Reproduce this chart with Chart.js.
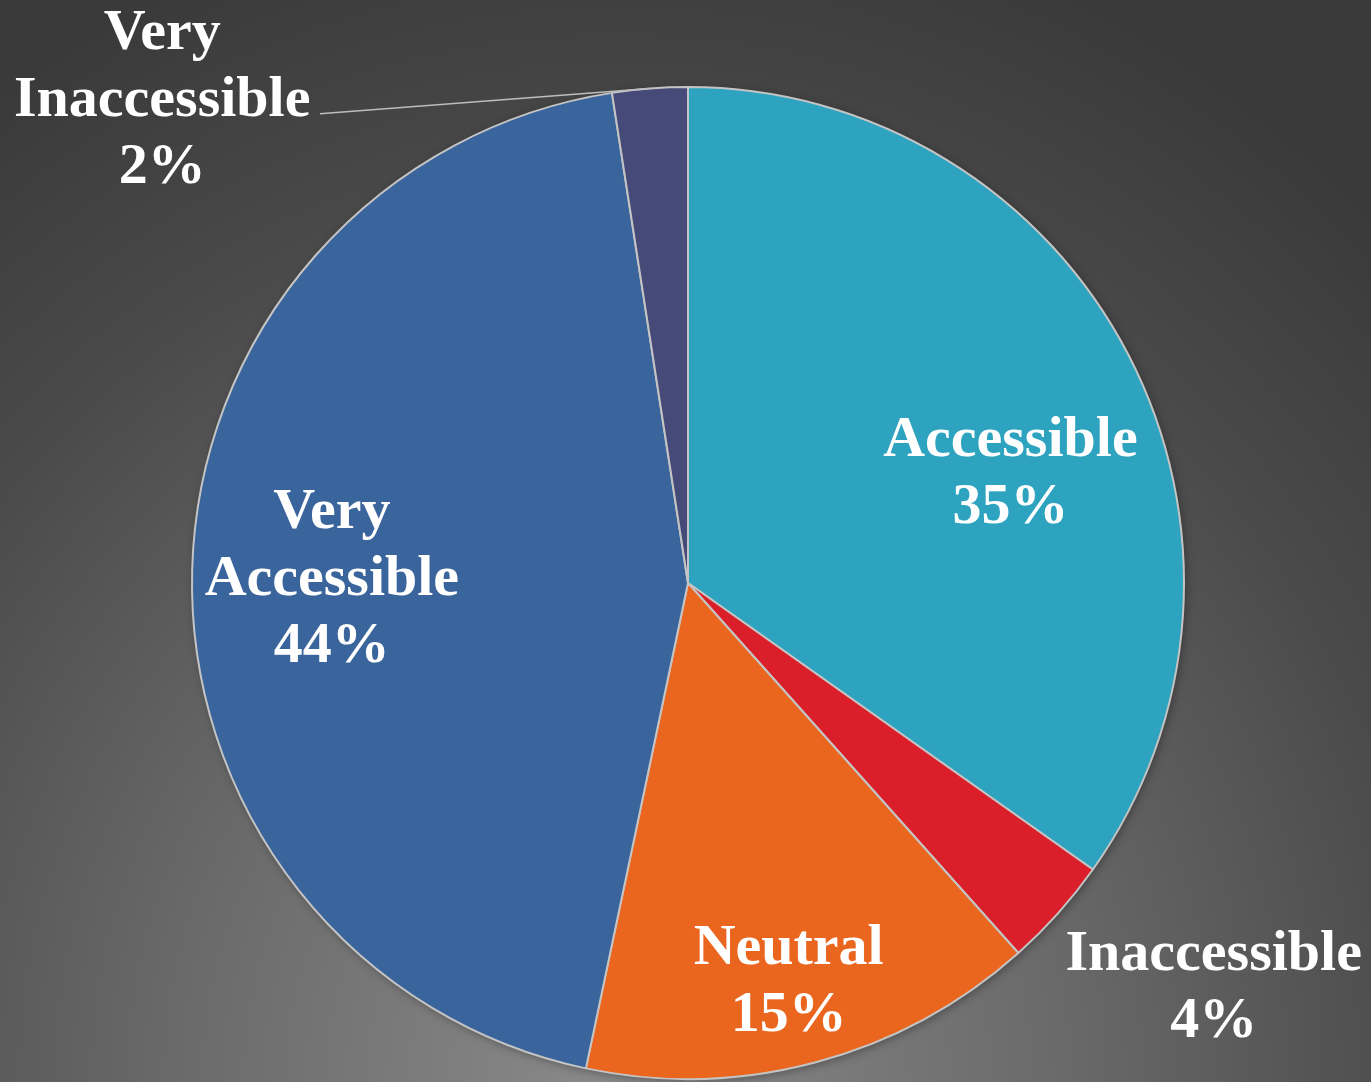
<!DOCTYPE html>
<html>
<head>
<meta charset="utf-8">
<script src="https://cdn.jsdelivr.net/npm/chart.js@4/dist/chart.umd.min.js"></script>
<style>
  html, body { margin: 0; padding: 0; }
  body {
    width: 1371px; height: 1082px; overflow: hidden;
    background: radial-gradient(ellipse 80% 110% at 45% 100%, #8a8a8a 0%, #6a6a6a 40%, #4a4a4a 75%, #3a3a3a 100%);
  }
  #wrap { width: 1371px; height: 1082px; position: relative; }
</style>
</head>
<body>
<div id="wrap"><canvas id="pie"></canvas></div>
<script>
// categories and values (percent of respondents), clockwise from 12 o'clock
var categories = ['Accessible', 'Inaccessible', 'Neutral', 'Very Accessible', 'Very Inaccessible'];
var values = [34.8, 3.6, 14.9, 44.25, 2.45];
var colours = ['#2da3c0', '#db1f2a', '#ea661e', '#3a649c', '#464a78'];

// label text split across lines
var labelLines = [
    ['Accessible'],
    ['Inaccessible'],
    ['Neutral'],
    ['Very', 'Accessible'],
    ['Very', 'Inaccessible']
];

// label block centres, as fractions of the radius from the pie centre
var labelOffsets = [
    [0.650, -0.219],
    [1.060, 0.817],
    [0.203, 0.805],
    [-0.718, -0.006],
    [-1.060, -0.972]
];

var pieLabels = {
    id: 'pieLabels',
    beforeDatasetsDraw: function (chart) {
        var ctx = chart.ctx;
        ctx.save();
        ctx.shadowColor = 'rgba(0,0,0,0.35)';
        ctx.shadowBlur = 10;
        ctx.shadowOffsetX = 2;
        ctx.shadowOffsetY = 2;
        var a = chart.getDatasetMeta(0).data[0];
        ctx.beginPath();
        ctx.arc(a.x, a.y, a.outerRadius, 0, Math.PI * 2);
        ctx.fillStyle = '#555';
        ctx.fill();
        ctx.restore();
    },
    afterDatasetsDraw: function (chart) {
        var ctx = chart.ctx;
        var arcs = chart.getDatasetMeta(0).data;
        var total = values.reduce(function (s, v) { return s + v; }, 0);
        var lh = 67;
        ctx.save();
        ctx.font = 'bold 58px "Liberation Serif", "Times New Roman", serif';
        ctx.fillStyle = '#ffffff';
        ctx.textAlign = 'center';
        ctx.textBaseline = 'middle';
        arcs.forEach(function (arc, i) {
            var r = arc.outerRadius;
            var cx = arc.x + labelOffsets[i][0] * r;
            var cy = arc.y + labelOffsets[i][1] * r;
            var lines = labelLines[i].concat([Math.round(values[i] / total * 100) + '%']);
            lines.forEach(function (t, j) {
                ctx.fillText(t, cx, cy + (j - (lines.length - 1) / 2) * lh);
            });
        });
        // leader line for the small slice
        var k = 4, arc = arcs[k];
        var mid = (arc.startAngle + arc.endAngle) / 2;
        var ex = arc.x + Math.cos(mid) * arc.outerRadius;
        var ey = arc.y + Math.sin(mid) * arc.outerRadius;
        var sx = arc.x - 0.742 * arc.outerRadius;
        var sy = arc.y - 0.946 * arc.outerRadius;
        ctx.strokeStyle = '#bdbdbd';
        ctx.lineWidth = 1.5;
        ctx.beginPath();
        ctx.moveTo(sx, sy);
        ctx.lineTo(ex, ey);
        ctx.stroke();
        ctx.restore();
    }
};

new Chart(document.getElementById('pie'), {
    type: 'pie',
    data: {
        labels: categories,
        datasets: [{
            data: values,
            backgroundColor: colours,
            borderColor: '#c4c4c4',
            borderWidth: 2
        }]
    },
    options: {
        responsive: true,
        maintainAspectRatio: false,
        animation: false,
        events: [],
        layout: { padding: { top: 86, bottom: 2, left: 190, right: 185 } },
        plugins: {
            legend: { display: false },
            tooltip: { enabled: false }
        }
    },
    plugins: [pieLabels]
});
</script>
</body>
</html>
